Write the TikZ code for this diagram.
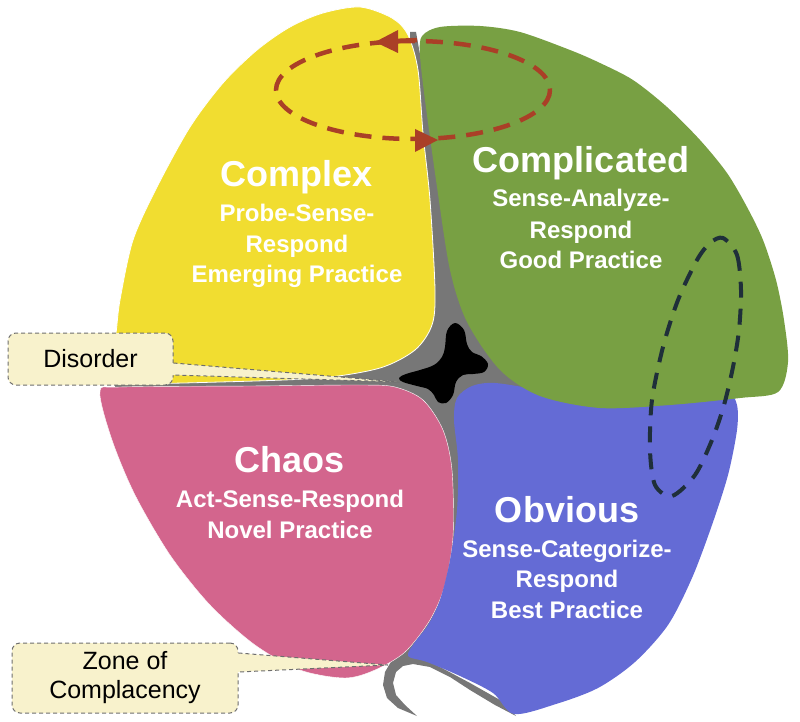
\documentclass[tikz,border=0pt]{standalone}
\usepackage{fontspec}
\setmainfont{Liberation Sans}
\definecolor{yel}{HTML}{F1DD30}
\definecolor{grn}{HTML}{78A043}
\definecolor{pnk}{HTML}{D3658D}
\definecolor{blu}{HTML}{646BD5}
\definecolor{gry}{HTML}{777777}
\definecolor{cream}{HTML}{F8F2CC}
\definecolor{cborder}{HTML}{6E6E6E}
\definecolor{redd}{HTML}{AA3F27}
\definecolor{darkd}{HTML}{1F2F3A}
\begin{document}
\begin{tikzpicture}[x=1pt,y=-1pt,
  ttl/.style={text=white, font=\fontsize{36pt}{40pt}\selectfont\bfseries, anchor=base, inner sep=0pt},
  sub/.style={text=white, font=\fontsize{24pt}{28pt}\selectfont\bfseries, anchor=base, inner sep=0pt},
  callout/.style={draw=cborder, fill=cream, line width=1pt, dash pattern=on 4pt off 3pt,
    rounded corners=8pt, font=\fontsize{25pt}{29pt}\selectfont, text=black, align=center, inner sep=0pt},
  cline/.style={draw=cborder, line width=1pt, dash pattern=on 4pt off 3pt},
  redloop/.style={draw=redd, line width=4.5pt, dash pattern=on 17pt off 11pt},
  darkloop/.style={draw=darkd, line width=4pt, dash pattern=on 16pt off 11pt}
]
\useasboundingbox (0,0) rectangle (800,722);

% gray background between the domains
\fill[gry] (410,32) -- (416,32) -- (430,110) -- (442,200) -- (458,270) -- (478,315)
  -- (515,365) -- (560,395) -- (640,400) -- (480,405) -- (462,430) -- (462,540)
  -- (448,603) -- (418,655) -- (400,662) -- (390,655) -- (428,605) -- (446,540)
  -- (446,470) -- (432,425) -- (405,393) -- (300,390) -- (115,389) -- (115,379)
  -- (300,377) -- (380,368) -- (420,340) -- (430,260) -- (423,130) -- (410,40) -- cycle;

% the cliff
\fill[gry] (400,650) -- (392,660) -- (385,672) -- (383,685) -- (387,698) -- (398,708)
  -- (417,716) -- (405,705) -- (396,695) -- (393,683) -- (396,672) -- (403,666)
  -- (413,664) -- (430,667) -- (450,677) -- (470,690) -- (495,705) -- (516,716)
  -- (500,700) -- (470,683) -- (440,667) -- (415,655) -- cycle;

% Chaos
\filldraw[fill=pnk, draw=white, line width=0.4pt] plot[smooth cycle] coordinates {
  (100,392) (120,387) (250,386) (360,385) (395,387) (423,400) (443,430) (452,470)
  (453,537) (445,585) (430,620) (405,652) (375,670) (345,678) (300,670) (255,645)
  (210,605) (170,555) (135,495) (112,440)};

% Obvious
\fill[blu] plot[smooth cycle] coordinates {
  (457,398) (472,386) (495,383) (540,390) (600,400) (700,395) (728,392) (737,405)
  (737,430) (728,475) (712,525) (692,578) (668,625) (635,662) (598,688) (556,704)
  (514,714) (493,693) (460,676) (427,662) (408,656) (415,642) (428,625) (440,600)
  (450,560) (457,510) (458,460) (454,420)};

% Complex
\filldraw[fill=yel, draw=white, line width=0.8pt] plot[smooth cycle] coordinates {
  (360,7) (392,18) (408,35) (418,70) (423,133) (430,200) (435,290) (432,325)
  (415,350) (380,368) (320,378) (220,382) (130,383) (110,372) (116,333) (120,300)
  (133,240) (157,187) (190,127) (223,83) (257,50) (290,27) (323,13)};

% Complicated
\fill[grn] plot[smooth cycle] coordinates {
  (422,36) (440,27) (480,26) (520,32) (570,50) (600,63) (633,80) (667,107)
  (700,140) (727,173) (747,207) (763,240) (776,280) (784,320) (788,362)
  (778,392) (740,398) (670,405) (600,408) (540,396) (500,370)
  (467,322) (450,270) (437,187) (425,100) (420,55)};

% Disorder (black)
\fill[black] plot[smooth cycle, tension=0.6] coordinates {
  (445,347) (447,331) (455,323) (464,330) (467,344) (472,352) (481,356) (488,364)
  (484,372) (473,374) (463,375) (456,382) (453,395) (446,403) (438,402) (434,395)
  (428,389) (417,386) (403,382) (399,378) (406,374) (420,370) (434,365) (442,357)};

% red loop with arrowheads
\draw[redloop] (413,90) ellipse [x radius=137, y radius=49];
\draw[draw=redd, line width=4.5pt] (395,41) -- (417,40);
\fill[redd] (375,42) -- (398,30) -- (398,53) -- cycle;
\fill[redd] (438,140) -- (415,129) -- (415,152) -- cycle;

% dark loop
\draw[darkloop] plot[smooth cycle] coordinates {
  (723,238) (737,255) (741,290) (739,330) (733,367) (724,405) (712,440) (695,475)
  (672,496) (655,485) (650,450) (652,400) (663,347) (678,300) (697,260) (710,243)};

% domain labels
\node[ttl] (complexT) at (297,187) {Complex};
\node[sub] (complexA) at (297,222) {Probe-Sense-};
\node[sub] (complexB) at (297,252) {Respond};
\node[sub] (complexC) at (297,282) {Emerging Practice};

\node[ttl] (complT) at (581,173) {Complicated};
\node[sub] (complA) at (581,207) {Sense-Analyze-};
\node[sub] (complB) at (581,238) {Respond};
\node[sub] (complC) at (581,268) {Good Practice};

\node[ttl] (chaosT) at (290,472) {Chaos};
\node[sub] (chaosA) at (290,507) {Act-Sense-Respond};
\node[sub] (chaosB) at (290,538) {Novel Practice};

\node[ttl] (obvT) at (567,522) {Obvious};
\node[sub] (obvA) at (567,557) {Sense-Categorize-};
\node[sub] (obvB) at (567,587) {Respond};
\node[sub] (obvC) at (567,618) {Best Practice};

% callouts
\node[callout, minimum width=165pt, minimum height=52pt] (disorder) at (90.5,359) {Disorder};
\coordinate (disTip) at (400,382);
\fill[cream] ([xshift=-2pt,yshift=-4pt]disorder.east) -- (disTip) -- ([xshift=-2pt,yshift=-16pt]disorder.east) -- cycle;
\draw[cline] ([yshift=-4pt]disorder.east) -- (disTip) -- ([yshift=-16pt]disorder.east);

\node[callout, minimum width=226pt, minimum height=70pt] (zone) at (125,678) {Zone of\\Complacency};
\coordinate (zoneTip) at (388,665);
\fill[cream] ([xshift=-2pt,yshift=25pt]zone.east) -- (zoneTip) -- ([xshift=-2pt,yshift=6pt]zone.east) -- cycle;
\draw[cline] ([yshift=25pt]zone.east) -- (zoneTip) -- ([yshift=6pt]zone.east);
\end{tikzpicture}
\end{document}
